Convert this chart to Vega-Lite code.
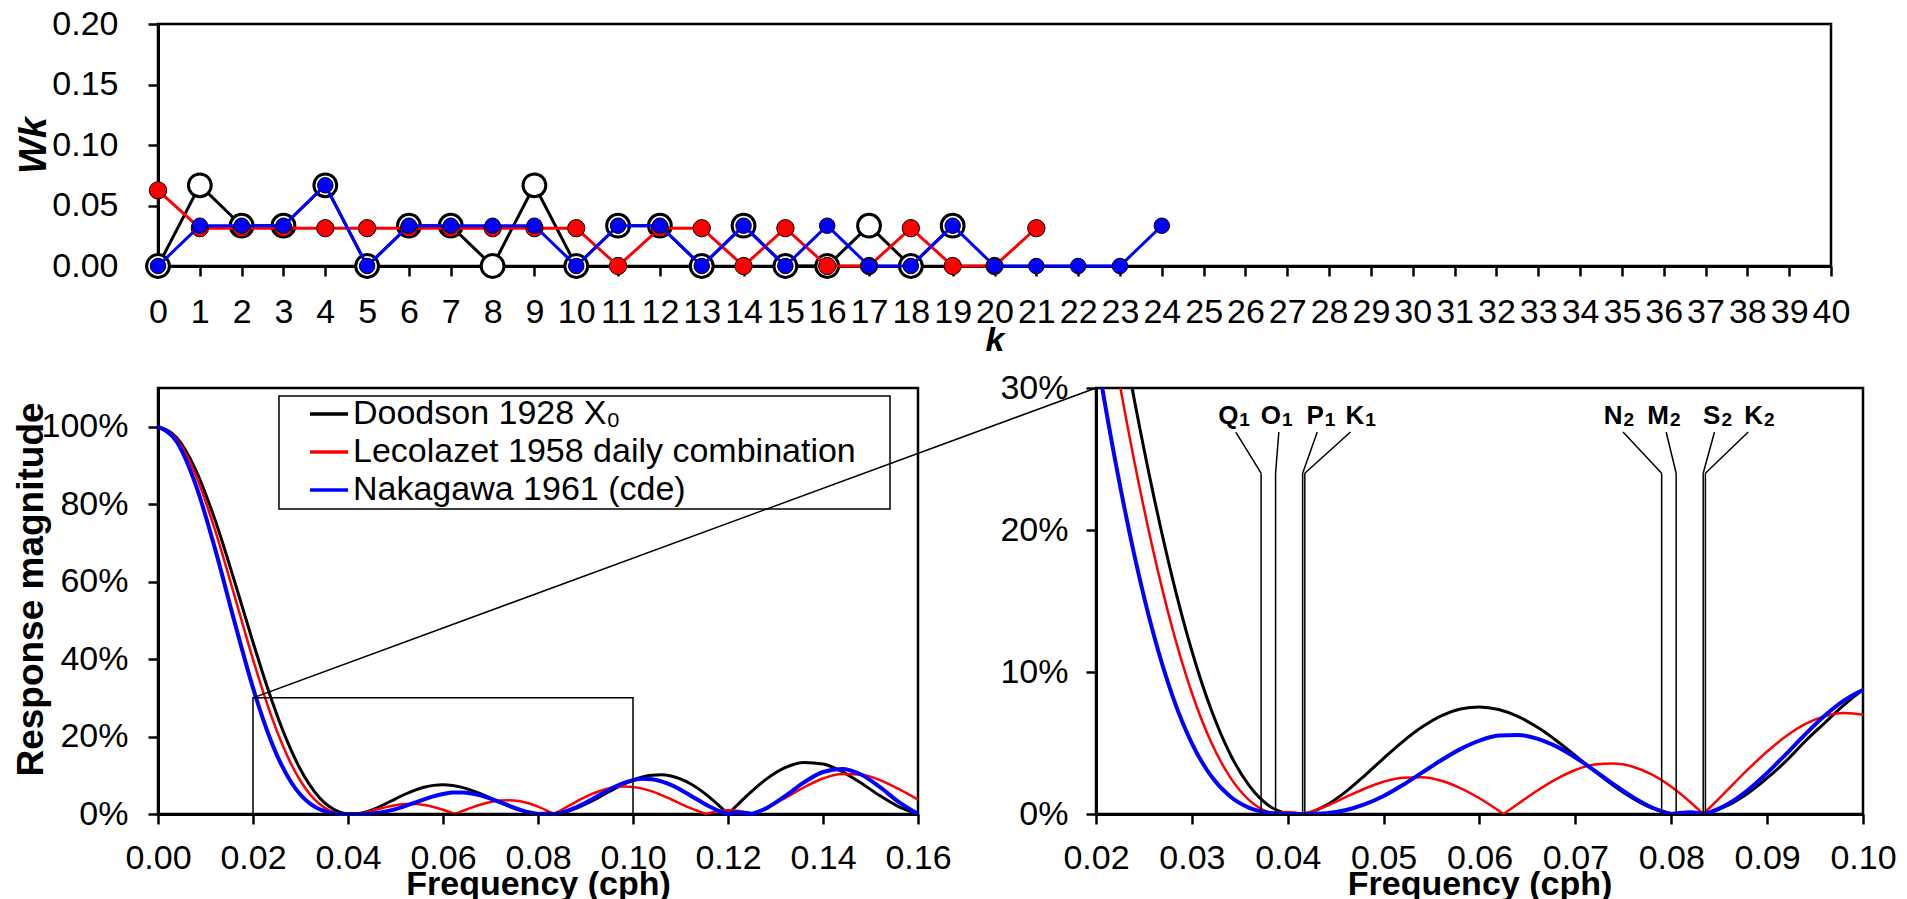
{
"$schema": "https://vega.github.io/schema/vega-lite/v6.json",
"background": "white",
"padding": {"left": 10, "top": 5, "right": 5, "bottom": 0},
"config": {
  "font": "Liberation Sans",
  "view": {"stroke": "black", "strokeWidth": 2.5},
  "axis": {"domainColor": "black", "domainWidth": 3, "tickColor": "black", "tickWidth": 2.5, "tickSize": 10,
    "labelFont": "Liberation Sans", "labelFontSize": 34, "labelColor": "black",
    "titleFont": "Liberation Sans", "titleFontSize": 34, "titleFontWeight": "bold", "titleColor": "black",
    "grid": false, "labelOverlap": false, "labelFlush": false, "labelBound": false}
},
"datasets": {
  "weights": [
    {"filter":"D","k":0,"w":0},{"filter":"D","k":1,"w":0.0667},{"filter":"D","k":2,"w":0.0333},{"filter":"D","k":3,"w":0.0333},{"filter":"D","k":4,"w":0.0667},
    {"filter":"D","k":5,"w":0},{"filter":"D","k":6,"w":0.0333},{"filter":"D","k":7,"w":0.0333},{"filter":"D","k":8,"w":0},{"filter":"D","k":9,"w":0.0667},
    {"filter":"D","k":10,"w":0},{"filter":"D","k":11,"w":0.0333},{"filter":"D","k":12,"w":0.0333},{"filter":"D","k":13,"w":0},{"filter":"D","k":14,"w":0.0333},
    {"filter":"D","k":15,"w":0},{"filter":"D","k":16,"w":0},{"filter":"D","k":17,"w":0.0333},{"filter":"D","k":18,"w":0},{"filter":"D","k":19,"w":0.0333},
    {"filter":"L","k":0,"w":0.0625},{"filter":"L","k":1,"w":0.03125},{"filter":"L","k":2,"w":0.03125},{"filter":"L","k":3,"w":0.03125},{"filter":"L","k":4,"w":0.03125},
    {"filter":"L","k":5,"w":0.03125},{"filter":"L","k":6,"w":0.03125},{"filter":"L","k":7,"w":0.03125},{"filter":"L","k":8,"w":0.03125},{"filter":"L","k":9,"w":0.03125},
    {"filter":"L","k":10,"w":0.03125},{"filter":"L","k":11,"w":0},{"filter":"L","k":12,"w":0.03125},{"filter":"L","k":13,"w":0.03125},{"filter":"L","k":14,"w":0},
    {"filter":"L","k":15,"w":0.03125},{"filter":"L","k":16,"w":0},{"filter":"L","k":17,"w":0},{"filter":"L","k":18,"w":0.03125},{"filter":"L","k":19,"w":0},
    {"filter":"L","k":20,"w":0},{"filter":"L","k":21,"w":0.03125},
    {"filter":"N","k":0,"w":0},{"filter":"N","k":1,"w":0.0333},{"filter":"N","k":2,"w":0.0333},{"filter":"N","k":3,"w":0.0333},{"filter":"N","k":4,"w":0.0667},
    {"filter":"N","k":5,"w":0},{"filter":"N","k":6,"w":0.0333},{"filter":"N","k":7,"w":0.0333},{"filter":"N","k":8,"w":0.0333},{"filter":"N","k":9,"w":0.0333},
    {"filter":"N","k":10,"w":0},{"filter":"N","k":11,"w":0.0333},{"filter":"N","k":12,"w":0.0333},{"filter":"N","k":13,"w":0},{"filter":"N","k":14,"w":0.0333},
    {"filter":"N","k":15,"w":0},{"filter":"N","k":16,"w":0.0333},{"filter":"N","k":17,"w":0},{"filter":"N","k":18,"w":0},{"filter":"N","k":19,"w":0.0333},
    {"filter":"N","k":20,"w":0},{"filter":"N","k":21,"w":0},{"filter":"N","k":22,"w":0},{"filter":"N","k":23,"w":0},{"filter":"N","k":24,"w":0.0333}
  ],
  "response": [
    {"filter":"D","f":0,"amp":1,"seg":1},{"filter":"D","f":0.004,"amp":0.9707,"seg":1},{"filter":"D","f":0.008,"amp":0.8869,"seg":1},{"filter":"D","f":0.012,"amp":0.7597,"seg":1},
    {"filter":"D","f":0.016,"amp":0.6056,"seg":1},{"filter":"D","f":0.02,"amp":0.4434,"seg":1},{"filter":"D","f":0.022,"amp":0.3652,"seg":1},{"filter":"D","f":0.024,"amp":0.2916,"seg":1},
    {"filter":"D","f":0.026,"amp":0.2246,"seg":1},{"filter":"D","f":0.028,"amp":0.1653,"seg":1},{"filter":"D","f":0.03,"amp":0.1148,"seg":1},{"filter":"D","f":0.032,"amp":0.0737,"seg":1},
    {"filter":"D","f":0.034,"amp":0.0421,"seg":1},{"filter":"D","f":0.036,"amp":0.0198,"seg":1},{"filter":"D","f":0.038,"amp":0.006,"seg":1},{"filter":"D","f":0.04,"amp":0,"seg":1},
    {"filter":"D","f":0.04,"amp":0,"seg":2},{"filter":"D","f":0.041667,"amp":0,"seg":2},
    {"filter":"D","f":0.041667,"amp":0,"seg":3},{"filter":"D","f":0.042,"amp":0.0005,"seg":3},{"filter":"D","f":0.044,"amp":0.0061,"seg":3},{"filter":"D","f":0.046,"amp":0.0154,"seg":3},
    {"filter":"D","f":0.048,"amp":0.0269,"seg":3},{"filter":"D","f":0.05,"amp":0.0392,"seg":3},{"filter":"D","f":0.052,"amp":0.051,"seg":3},{"filter":"D","f":0.054,"amp":0.0612,"seg":3},
    {"filter":"D","f":0.056,"amp":0.0691,"seg":3},{"filter":"D","f":0.058,"amp":0.0739,"seg":3},{"filter":"D","f":0.06,"amp":0.0754,"seg":3},{"filter":"D","f":0.062,"amp":0.0736,"seg":3},
    {"filter":"D","f":0.064,"amp":0.0687,"seg":3},{"filter":"D","f":0.066,"amp":0.0612,"seg":3},{"filter":"D","f":0.068,"amp":0.0518,"seg":3},{"filter":"D","f":0.07,"amp":0.0411,"seg":3},
    {"filter":"D","f":0.072,"amp":0.0302,"seg":3},{"filter":"D","f":0.074,"amp":0.0199,"seg":3},{"filter":"D","f":0.076,"amp":0.011,"seg":3},{"filter":"D","f":0.078,"amp":0.0041,"seg":3},
    {"filter":"D","f":0.08,"amp":0,"seg":3},
    {"filter":"D","f":0.08,"amp":0,"seg":4},{"filter":"D","f":0.082,"amp":0.0011,"seg":4},{"filter":"D","f":0.083333,"amp":0,"seg":4},
    {"filter":"D","f":0.083333,"amp":0,"seg":5},{"filter":"D","f":0.084,"amp":0.0011,"seg":5},{"filter":"D","f":0.086,"amp":0.0064,"seg":5},{"filter":"D","f":0.088,"amp":0.0146,"seg":5},
    {"filter":"D","f":0.09,"amp":0.0252,"seg":5},{"filter":"D","f":0.092,"amp":0.0375,"seg":5},{"filter":"D","f":0.094,"amp":0.0514,"seg":5},{"filter":"D","f":0.096,"amp":0.0641,"seg":5},
    {"filter":"D","f":0.098,"amp":0.0766,"seg":5},{"filter":"D","f":0.1,"amp":0.0873,"seg":5},{"filter":"D","f":0.102,"amp":0.0954,"seg":5},{"filter":"D","f":0.104,"amp":0.1001,"seg":5},
    {"filter":"D","f":0.106,"amp":0.1011,"seg":5},{"filter":"D","f":0.108,"amp":0.0979,"seg":5},{"filter":"D","f":0.112,"amp":0.0787,"seg":5},{"filter":"D","f":0.116,"amp":0.0444,"seg":5},
    {"filter":"D","f":0.118,"amp":0.0231,"seg":5},{"filter":"D","f":0.12,"amp":0,"seg":5},
    {"filter":"D","f":0.12,"amp":0,"seg":6},{"filter":"D","f":0.122,"amp":0.0238,"seg":6},{"filter":"D","f":0.124,"amp":0.0472,"seg":6},{"filter":"D","f":0.128,"amp":0.0894,"seg":6},
    {"filter":"D","f":0.132,"amp":0.1196,"seg":6},{"filter":"D","f":0.136,"amp":0.1332,"seg":6},{"filter":"D","f":0.14,"amp":0.1291,"seg":6},{"filter":"D","f":0.144,"amp":0.1096,"seg":6},
    {"filter":"D","f":0.148,"amp":0.0799,"seg":6},{"filter":"D","f":0.152,"amp":0.0471,"seg":6},{"filter":"D","f":0.156,"amp":0.0184,"seg":6},{"filter":"D","f":0.16,"amp":0,"seg":6},

    {"filter":"L","f":0,"amp":1,"seg":1},{"filter":"L","f":0.004,"amp":0.967,"seg":1},{"filter":"L","f":0.008,"amp":0.8734,"seg":1},{"filter":"L","f":0.012,"amp":0.7336,"seg":1},
    {"filter":"L","f":0.016,"amp":0.5679,"seg":1},{"filter":"L","f":0.02,"amp":0.3993,"seg":1},{"filter":"L","f":0.022,"amp":0.3205,"seg":1},{"filter":"L","f":0.024,"amp":0.2483,"seg":1},
    {"filter":"L","f":0.026,"amp":0.1844,"seg":1},{"filter":"L","f":0.028,"amp":0.1298,"seg":1},{"filter":"L","f":0.03,"amp":0.0852,"seg":1},{"filter":"L","f":0.032,"amp":0.0507,"seg":1},
    {"filter":"L","f":0.034,"amp":0.0258,"seg":1},{"filter":"L","f":0.036,"amp":0.0096,"seg":1},{"filter":"L","f":0.038,"amp":0.0011,"seg":1},{"filter":"L","f":0.038462,"amp":0,"seg":1},
    {"filter":"L","f":0.038462,"amp":0,"seg":2},{"filter":"L","f":0.04,"amp":0.0014,"seg":2},{"filter":"L","f":0.041667,"amp":0,"seg":2},
    {"filter":"L","f":0.041667,"amp":0,"seg":3},{"filter":"L","f":0.042,"amp":0.0006,"seg":3},{"filter":"L","f":0.044,"amp":0.0055,"seg":3},{"filter":"L","f":0.046,"amp":0.0117,"seg":3},
    {"filter":"L","f":0.048,"amp":0.0178,"seg":3},{"filter":"L","f":0.05,"amp":0.0227,"seg":3},{"filter":"L","f":0.052,"amp":0.0256,"seg":3},{"filter":"L","f":0.054,"amp":0.0258,"seg":3},
    {"filter":"L","f":0.056,"amp":0.0234,"seg":3},{"filter":"L","f":0.058,"amp":0.0183,"seg":3},{"filter":"L","f":0.06,"amp":0.0111,"seg":3},{"filter":"L","f":0.062,"amp":0.0023,"seg":3},
    {"filter":"L","f":0.0625,"amp":0,"seg":3},
    {"filter":"L","f":0.0625,"amp":0,"seg":4},{"filter":"L","f":0.064,"amp":0.0071,"seg":4},{"filter":"L","f":0.066,"amp":0.0164,"seg":4},{"filter":"L","f":0.068,"amp":0.0246,"seg":4},
    {"filter":"L","f":0.07,"amp":0.031,"seg":4},{"filter":"L","f":0.072,"amp":0.0348,"seg":4},{"filter":"L","f":0.074,"amp":0.0356,"seg":4},{"filter":"L","f":0.076,"amp":0.0333,"seg":4},
    {"filter":"L","f":0.078,"amp":0.0277,"seg":4},{"filter":"L","f":0.08,"amp":0.0192,"seg":4},{"filter":"L","f":0.082,"amp":0.0083,"seg":4},{"filter":"L","f":0.083333,"amp":0,"seg":4},
    {"filter":"L","f":0.083333,"amp":0,"seg":5},{"filter":"L","f":0.084,"amp":0.0044,"seg":5},{"filter":"L","f":0.086,"amp":0.0179,"seg":5},{"filter":"L","f":0.088,"amp":0.0314,"seg":5},
    {"filter":"L","f":0.09,"amp":0.044,"seg":5},{"filter":"L","f":0.092,"amp":0.0549,"seg":5},{"filter":"L","f":0.094,"amp":0.0634,"seg":5},{"filter":"L","f":0.096,"amp":0.0689,"seg":5},
    {"filter":"L","f":0.098,"amp":0.0711,"seg":5},{"filter":"L","f":0.1,"amp":0.0699,"seg":5},{"filter":"L","f":0.102,"amp":0.0655,"seg":5},{"filter":"L","f":0.104,"amp":0.0583,"seg":5},
    {"filter":"L","f":0.106,"amp":0.0489,"seg":5},{"filter":"L","f":0.108,"amp":0.0381,"seg":5},{"filter":"L","f":0.112,"amp":0.0156,"seg":5},{"filter":"L","f":0.115385,"amp":0,"seg":5},
    {"filter":"L","f":0.115385,"amp":0,"seg":6},{"filter":"L","f":0.116,"amp":0.0022,"seg":6},{"filter":"L","f":0.118,"amp":0.0074,"seg":6},{"filter":"L","f":0.12,"amp":0.0095,"seg":6},
    {"filter":"L","f":0.122,"amp":0.0082,"seg":6},{"filter":"L","f":0.124,"amp":0.0035,"seg":6},{"filter":"L","f":0.125,"amp":0,"seg":6},
    {"filter":"L","f":0.125,"amp":0,"seg":7},{"filter":"L","f":0.128,"amp":0.0147,"seg":7},{"filter":"L","f":0.132,"amp":0.0411,"seg":7},{"filter":"L","f":0.136,"amp":0.069,"seg":7},
    {"filter":"L","f":0.14,"amp":0.0917,"seg":7},{"filter":"L","f":0.144,"amp":0.1035,"seg":7},{"filter":"L","f":0.148,"amp":0.1019,"seg":7},{"filter":"L","f":0.152,"amp":0.0876,"seg":7},
    {"filter":"L","f":0.156,"amp":0.0641,"seg":7},{"filter":"L","f":0.16,"amp":0.0372,"seg":7},

    {"filter":"N","f":0,"amp":1,"seg":1},{"filter":"N","f":0.004,"amp":0.96,"seg":1},{"filter":"N","f":0.008,"amp":0.8479,"seg":1},{"filter":"N","f":0.012,"amp":0.6852,"seg":1},
    {"filter":"N","f":0.016,"amp":0.5012,"seg":1},{"filter":"N","f":0.02,"amp":0.3258,"seg":1},{"filter":"N","f":0.022,"amp":0.249,"seg":1},{"filter":"N","f":0.024,"amp":0.1823,"seg":1},
    {"filter":"N","f":0.026,"amp":0.1267,"seg":1},{"filter":"N","f":0.028,"amp":0.0827,"seg":1},{"filter":"N","f":0.03,"amp":0.0498,"seg":1},{"filter":"N","f":0.032,"amp":0.0268,"seg":1},
    {"filter":"N","f":0.034,"amp":0.0123,"seg":1},{"filter":"N","f":0.036,"amp":0.0043,"seg":1},{"filter":"N","f":0.038,"amp":0.0009,"seg":1},{"filter":"N","f":0.04,"amp":0,"seg":1},
    {"filter":"N","f":0.04,"amp":0,"seg":2},{"filter":"N","f":0.041667,"amp":0,"seg":2},
    {"filter":"N","f":0.041667,"amp":0,"seg":3},{"filter":"N","f":0.044,"amp":0.0006,"seg":3},{"filter":"N","f":0.046,"amp":0.0026,"seg":3},{"filter":"N","f":0.048,"amp":0.0067,"seg":3},
    {"filter":"N","f":0.05,"amp":0.0127,"seg":3},{"filter":"N","f":0.052,"amp":0.0204,"seg":3},{"filter":"N","f":0.054,"amp":0.0291,"seg":3},{"filter":"N","f":0.056,"amp":0.0378,"seg":3},
    {"filter":"N","f":0.058,"amp":0.0457,"seg":3},{"filter":"N","f":0.06,"amp":0.0517,"seg":3},{"filter":"N","f":0.062,"amp":0.0552,"seg":3},{"filter":"N","f":0.064,"amp":0.0557,"seg":3},
    {"filter":"N","f":0.066,"amp":0.0531,"seg":3},{"filter":"N","f":0.068,"amp":0.0476,"seg":3},{"filter":"N","f":0.07,"amp":0.0398,"seg":3},{"filter":"N","f":0.072,"amp":0.0306,"seg":3},
    {"filter":"N","f":0.074,"amp":0.0209,"seg":3},{"filter":"N","f":0.076,"amp":0.0119,"seg":3},{"filter":"N","f":0.078,"amp":0.0046,"seg":3},{"filter":"N","f":0.08,"amp":0,"seg":3},
    {"filter":"N","f":0.08,"amp":0,"seg":4},{"filter":"N","f":0.082,"amp":0.0012,"seg":4},{"filter":"N","f":0.083333,"amp":0,"seg":4},
    {"filter":"N","f":0.083333,"amp":0,"seg":5},{"filter":"N","f":0.084,"amp":0.0012,"seg":5},{"filter":"N","f":0.086,"amp":0.0074,"seg":5},{"filter":"N","f":0.088,"amp":0.0169,"seg":5},
    {"filter":"N","f":0.09,"amp":0.0289,"seg":5},{"filter":"N","f":0.092,"amp":0.0424,"seg":5},{"filter":"N","f":0.094,"amp":0.0563,"seg":5},{"filter":"N","f":0.096,"amp":0.0692,"seg":5},
    {"filter":"N","f":0.098,"amp":0.0798,"seg":5},{"filter":"N","f":0.1,"amp":0.0873,"seg":5},{"filter":"N","f":0.102,"amp":0.0907,"seg":5},{"filter":"N","f":0.104,"amp":0.0897,"seg":5},
    {"filter":"N","f":0.106,"amp":0.0844,"seg":5},{"filter":"N","f":0.108,"amp":0.0752,"seg":5},{"filter":"N","f":0.112,"amp":0.0486,"seg":5},{"filter":"N","f":0.116,"amp":0.0198,"seg":5},
    {"filter":"N","f":0.118,"amp":0.0082,"seg":5},{"filter":"N","f":0.12,"amp":0,"seg":5},
    {"filter":"N","f":0.12,"amp":0,"seg":6},{"filter":"N","f":0.122,"amp":0.0037,"seg":6},{"filter":"N","f":0.124,"amp":0.0025,"seg":6},{"filter":"N","f":0.125,"amp":0,"seg":6},
    {"filter":"N","f":0.125,"amp":0,"seg":7},{"filter":"N","f":0.128,"amp":0.0145,"seg":7},{"filter":"N","f":0.132,"amp":0.0462,"seg":7},{"filter":"N","f":0.136,"amp":0.0817,"seg":7},
    {"filter":"N","f":0.14,"amp":0.1085,"seg":7},{"filter":"N","f":0.144,"amp":0.1164,"seg":7},{"filter":"N","f":0.148,"amp":0.1019,"seg":7},{"filter":"N","f":0.152,"amp":0.0694,"seg":7},
    {"filter":"N","f":0.156,"amp":0.0305,"seg":7},{"filter":"N","f":0.16,"amp":0,"seg":7}
  ],
  "constituents": [
    {"letter":"Q","sub":"1","f":0.037219,"lx":0.03458,"tx":0.03485},
    {"letter":"O","sub":"1","f":0.038731,"lx":0.03907,"tx":0.03929},
    {"letter":"P","sub":"1","f":0.041553,"lx":0.04308,"tx":0.04376},
    {"letter":"K","sub":"1","f":0.041781,"lx":0.04654,"tx":0.04797},
    {"letter":"N","sub":"2","f":0.078999,"lx":0.07497,"tx":0.07491},
    {"letter":"M","sub":"2","f":0.080511,"lx":0.07947,"tx":0.07977},
    {"letter":"S","sub":"2","f":0.083333,"lx":0.08451,"tx":0.08513},
    {"letter":"K","sub":"2","f":0.083561,"lx":0.08803,"tx":0.08956}
  ]
},
"spacing": 122,
"bounds": "flush",
"vconcat": [
  {
    "width": 1673, "height": 242,
    "data": {"name": "weights"},
    "encoding": {
      "x": {"field": "k", "type": "quantitative", "title": "k",
        "scale": {"domain": [0, 40], "nice": false},
        "axis": {"values": [0,1,2,3,4,5,6,7,8,9,10,11,12,13,14,15,16,17,18,19,20,21,22,23,24,25,26,27,28,29,30,31,32,33,34,35,36,37,38,39,40],
          "format": "d", "titleFontStyle": "italic", "labelPadding": 19, "titlePadding": -6}},
      "y": {"field": "w", "type": "quantitative", "title": "Wk",
        "scale": {"domain": [0, 0.2], "nice": false},
        "axis": {"values": [0, 0.05, 0.1, 0.15, 0.2], "format": ".2f", "titleFontStyle": "italic", "titleFontSize": 38, "labelPadding": 30, "titlePadding": -2}}
    },
    "layer": [
      {"transform": [{"filter": "datum.filter == 'D'"}], "mark": {"type": "line", "color": "black", "strokeWidth": 3}, "encoding": {}},
      {"transform": [{"filter": "datum.filter == 'D'"}], "mark": {"type": "point", "shape": "circle", "filled": true, "fill": "white", "stroke": "black", "strokeWidth": 3, "size": 520, "opacity": 1}, "encoding": {}},
      {"transform": [{"filter": "datum.filter == 'L'"}], "mark": {"type": "line", "color": "red", "strokeWidth": 3}, "encoding": {}},
      {"transform": [{"filter": "datum.filter == 'L'"}], "mark": {"type": "point", "shape": "circle", "filled": true, "fill": "red", "stroke": "black", "strokeWidth": 1, "size": 300, "opacity": 1}, "encoding": {}},
      {"transform": [{"filter": "datum.filter == 'N'"}], "mark": {"type": "line", "color": "blue", "strokeWidth": 3}, "encoding": {}},
      {"transform": [{"filter": "datum.filter == 'N'"}], "mark": {"type": "point", "shape": "circle", "filled": true, "fill": "blue", "stroke": "black", "strokeWidth": 1, "size": 240, "opacity": 1}, "encoding": {}}
    ]
  },
  {
    "spacing": 178,
    "bounds": "flush",
    "resolve": {"scale": {"color": "independent"}, "legend": {"color": "independent"}},
    "hconcat": [
      {
        "width": 760, "height": 426,
        "layer": [
          {"data": {"name": "response"}, "transform": [{"filter": "datum.filter == 'D'"}],
           "mark": {"type": "line", "interpolate": "monotone", "strokeWidth": 3},
           "encoding": {
             "x": {"field": "f", "type": "quantitative", "title": "Frequency (cph)",
               "scale": {"domain": [0, 0.16], "nice": false, "zero": false},
               "axis": {"values": [0, 0.02, 0.04, 0.06, 0.08, 0.1, 0.12, 0.14, 0.16], "format": ".2f", "labelPadding": 17, "titlePadding": 19, "titleBaseline": "alphabetic"}},
             "y": {"field": "amp", "type": "quantitative", "title": "Response magnitude",
               "scale": {"domain": [0, 1.1], "nice": false},
               "axis": {"values": [0, 0.2, 0.4, 0.6, 0.8, 1], "format": ".0%", "labelPadding": 20, "titlePadding": -9, "titleFontSize": 37, "titleY": 201}},
             "color": {"field": "filter", "type": "nominal",
               "scale": {"domain": ["D", "L", "N"], "range": ["black", "red", "blue"]},
               "legend": {"title": null, "orient": "none", "legendX": 121, "legendY": 5,
                 "labelExpr": "datum.label == 'D' ? 'Doodson 1928 X₀' : datum.label == 'L' ? 'Lecolazet 1958 daily combination' : 'Nakagawa 1961 (cde)'",
                 "padding": 0, "symbolType": "stroke", "symbolSize": 1444, "symbolStrokeWidth": 3.5,
                 "symbolOffset": 29, "labelOffset": 3, "labelFontSize": 34, "labelFont": "Liberation Sans", "labelColor": "black",
                 "rowPadding": 0, "labelLimit": 1000}},
             "detail": {"field": "seg", "type": "nominal"}}},
          {"data": {"name": "response"}, "transform": [{"filter": "datum.filter == 'L'"}],
           "mark": {"type": "line", "interpolate": "monotone", "strokeWidth": 2.5},
           "encoding": {
             "x": {"field": "f", "type": "quantitative", "title": "Frequency (cph)"},
             "y": {"field": "amp", "type": "quantitative", "title": "Response magnitude"},
             "color": {"field": "filter", "type": "nominal", "scale": {"domain": ["D", "L", "N"], "range": ["black", "red", "blue"]}},
             "detail": {"field": "seg", "type": "nominal"}}},
          {"data": {"name": "response"}, "transform": [{"filter": "datum.filter == 'N'"}],
           "mark": {"type": "line", "interpolate": "monotone", "strokeWidth": 4},
           "encoding": {
             "x": {"field": "f", "type": "quantitative", "title": "Frequency (cph)"},
             "y": {"field": "amp", "type": "quantitative", "title": "Response magnitude"},
             "color": {"field": "filter", "type": "nominal", "scale": {"domain": ["D", "L", "N"], "range": ["black", "red", "blue"]}},
             "detail": {"field": "seg", "type": "nominal"}}},
          {"data": {"values": [{"box": "zoom"}]},
           "mark": {"type": "rect", "filled": false, "fill": null, "stroke": "black", "strokeWidth": 1.5},
           "encoding": {
             "x": {"datum": 0.02, "type": "quantitative", "title": "Frequency (cph)"}, "x2": {"datum": 0.1},
             "y": {"datum": 0, "type": "quantitative", "title": "Response magnitude"}, "y2": {"datum": 0.3}}},
          {"data": {"values": [{"box": "legend"}]},
           "mark": {"type": "rect", "filled": false, "fill": null, "stroke": "black", "strokeWidth": 1.5},
           "encoding": {
             "x": {"datum": 0.02547, "type": "quantitative", "title": "Frequency (cph)"}, "x2": {"datum": 0.15411},
             "y": {"datum": 0.7876, "type": "quantitative", "title": "Response magnitude"}, "y2": {"datum": 1.0794}}},
          {"data": {"values": [{"box": "zoom"}]},
           "mark": {"type": "rule", "stroke": "black", "strokeWidth": 1.5},
           "encoding": {
             "x": {"datum": 0.02, "type": "quantitative", "title": "Frequency (cph)"}, "x2": {"datum": 0.19747},
             "y": {"datum": 0.3, "type": "quantitative", "title": "Response magnitude"}, "y2": {"datum": 1.1}}}
        ]
      },
      {
        "width": 767, "height": 426,
        "layer": [
          {"data": {"name": "response"}, "transform": [{"filter": "datum.filter == 'D' && datum.f >= 0.016 && datum.f <= 0.102"}],
           "mark": {"type": "line", "interpolate": "monotone", "strokeWidth": 3, "clip": true},
           "encoding": {
             "x": {"field": "f", "type": "quantitative", "title": "Frequency (cph)",
               "scale": {"domain": [0.02, 0.1], "nice": false, "zero": false},
               "axis": {"values": [0.02, 0.03, 0.04, 0.05, 0.06, 0.07, 0.08, 0.09, 0.1], "format": ".2f", "labelPadding": 17, "titlePadding": 19, "titleBaseline": "alphabetic"}},
             "y": {"field": "amp", "type": "quantitative", "title": null,
               "scale": {"domain": [0, 0.3], "nice": false},
               "axis": {"values": [0, 0.1, 0.2, 0.3], "format": ".0%", "labelPadding": 18, "title": null}},
             "color": {"field": "filter", "type": "nominal", "scale": {"domain": ["D", "L", "N"], "range": ["black", "red", "blue"]}, "legend": null},
             "detail": {"field": "seg", "type": "nominal"}}},
          {"data": {"name": "response"}, "transform": [{"filter": "datum.filter == 'L' && datum.f >= 0.016 && datum.f <= 0.102"}],
           "mark": {"type": "line", "interpolate": "monotone", "strokeWidth": 2.5, "clip": true},
           "encoding": {
             "x": {"field": "f", "type": "quantitative", "title": "Frequency (cph)"},
             "y": {"field": "amp", "type": "quantitative", "title": null},
             "color": {"field": "filter", "type": "nominal", "scale": {"domain": ["D", "L", "N"], "range": ["black", "red", "blue"]}, "legend": null},
             "detail": {"field": "seg", "type": "nominal"}}},
          {"data": {"name": "response"}, "transform": [{"filter": "datum.filter == 'N' && datum.f >= 0.016 && datum.f <= 0.102"}],
           "mark": {"type": "line", "interpolate": "monotone", "strokeWidth": 4, "clip": true},
           "encoding": {
             "x": {"field": "f", "type": "quantitative", "title": "Frequency (cph)"},
             "y": {"field": "amp", "type": "quantitative", "title": null},
             "color": {"field": "filter", "type": "nominal", "scale": {"domain": ["D", "L", "N"], "range": ["black", "red", "blue"]}, "legend": null},
             "detail": {"field": "seg", "type": "nominal"}}},
          {"data": {"name": "constituents"},
           "mark": {"type": "rule", "stroke": "black", "strokeWidth": 1.5},
           "encoding": {
             "x": {"field": "f", "type": "quantitative", "title": "Frequency (cph)"},
             "y": {"datum": 0, "type": "quantitative", "title": null}, "y2": {"datum": 0.24}}},
          {"data": {"name": "constituents"},
           "mark": {"type": "rule", "stroke": "black", "strokeWidth": 1.5},
           "encoding": {
             "x": {"field": "f", "type": "quantitative", "title": "Frequency (cph)"},
             "y": {"datum": 0.24, "type": "quantitative", "title": null},
             "x2": {"field": "lx"}, "y2": {"datum": 0.269}}},
          {"data": {"name": "constituents"},
           "mark": {"type": "text", "font": "Liberation Sans", "fontSize": 26, "fontWeight": "bold", "align": "right", "baseline": "alphabetic", "color": "black"},
           "encoding": {
             "x": {"field": "tx", "type": "quantitative", "title": "Frequency (cph)"},
             "y": {"datum": 0.275, "type": "quantitative", "title": null},
             "text": {"field": "letter"}}},
          {"data": {"name": "constituents"},
           "mark": {"type": "text", "font": "Liberation Sans", "fontSize": 19, "fontWeight": "bold", "align": "left", "baseline": "alphabetic", "dx": 1, "dy": 2, "color": "black"},
           "encoding": {
             "x": {"field": "tx", "type": "quantitative", "title": "Frequency (cph)"},
             "y": {"datum": 0.275, "type": "quantitative", "title": null},
             "text": {"field": "sub"}}}
        ]
      }
    ]
  }
]
}
